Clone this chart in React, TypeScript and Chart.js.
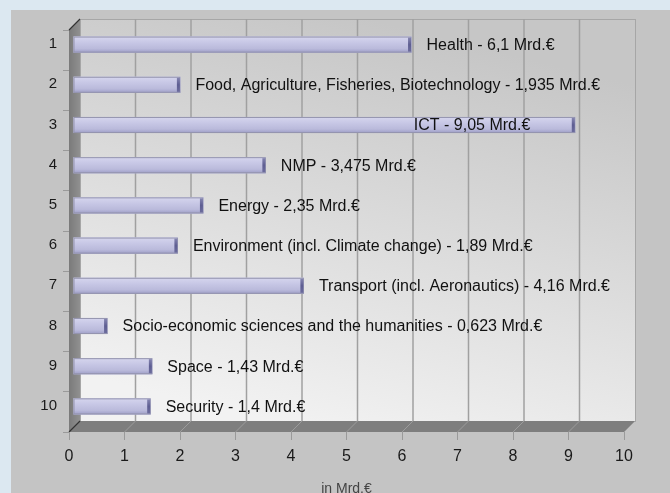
import React, { useEffect, useRef } from 'react';
import { Chart, registerables } from 'chart.js';

Chart.register(...registerables);

const categories = ['1', '2', '3', '4', '5', '6', '7', '8', '9', '10'];
const topics = [
  'Health',
  'Food, Agriculture, Fisheries, Biotechnology',
  'ICT',
  'NMP',
  'Energy',
  'Environment (incl. Climate change)',
  'Transport (incl. Aeronautics)',
  'Socio-economic sciences and the humanities',
  'Space',
  'Security',
];
const budgets = [6.1, 1.935, 9.05, 3.475, 2.35, 1.89, 4.16, 0.623, 1.43, 1.4];
const budgetLabels = ['6,1', '1,935', '9,05', '3,475', '2,35', '1,89', '4,16', '0,623', '1,43', '1,4'];
const xMin = 0;
const xMax = 10;
const xStep = 1;
const unitSuffix = ' Mrd.€';
const axisTitle = 'in Mrd.€';

const FONT = '"Liberation Sans", Arial, sans-serif';

export default function App() {
  const ref = useRef<HTMLCanvasElement>(null);

  useEffect(() => {
    document.body.style.margin = '0';
    const canvas = ref.current as HTMLCanvasElement;
    const DEPTH = 11;
    const BAR_DX = 4;
    const BAR_DY = -5.5;

    const plugin = {
      id: 'threeD',
      beforeDraw(chart: any) {
        const ctx = chart.ctx as CanvasRenderingContext2D;
        const { width, height } = chart;
        ctx.save();
        ctx.fillStyle = '#dce8f1';
        ctx.fillRect(0, 0, width, height);
        ctx.fillStyle = '#c4c4c4';
        ctx.fillRect(11, 10, width - 11, height - 10);

        const { left: L, right: R, top: T, bottom: B } = chart.chartArea;
        const D = DEPTH;
        // back wall
        const g = ctx.createLinearGradient(L + 300, T - D, L + 200, B - D);
        g.addColorStop(0, '#c6c6c6');
        g.addColorStop(1, '#f2f2f2');
        ctx.fillStyle = g;
        ctx.fillRect(L + D, T - D, R - L, B - T);
        ctx.strokeStyle = '#a6a6a6';
        ctx.lineWidth = 1;
        ctx.strokeRect(L + D + 0.5, T - D + 0.5, R - L, B - T);

        // grid lines on back wall
        const xs = chart.scales.x;
        ctx.strokeStyle = '#a0a0a0';
        ctx.lineWidth = 1.5;
        for (let v = xMin + xStep; v < xMax; v += xStep) {
          const px = xs.getPixelForValue(v) + D;
          ctx.beginPath();
          ctx.moveTo(px, T - D);
          ctx.lineTo(px, B - D);
          ctx.stroke();
        }

        // left wall
        const lg = ctx.createLinearGradient(L, 0, L + D, 0);
        lg.addColorStop(0, '#7a7a7a');
        lg.addColorStop(1, '#909090');
        ctx.fillStyle = lg;
        ctx.beginPath();
        ctx.moveTo(L, T);
        ctx.lineTo(L + D, T - D);
        ctx.lineTo(L + D, B - D);
        ctx.lineTo(L, B);
        ctx.closePath();
        ctx.fill();

        // floor
        ctx.fillStyle = '#7e7e7e';
        ctx.beginPath();
        ctx.moveTo(L, B);
        ctx.lineTo(L + D, B - D);
        ctx.lineTo(R + D, B - D);
        ctx.lineTo(R, B);
        ctx.closePath();
        ctx.fill();

        // slanted grid lines on floor
        ctx.strokeStyle = '#9c9c9c';
        ctx.lineWidth = 1;
        for (let v = xMin + xStep; v <= xMax; v += xStep) {
          const px = xs.getPixelForValue(v);
          ctx.beginPath();
          ctx.moveTo(px, B);
          ctx.lineTo(px + D, B - D);
          ctx.stroke();
        }

        // dark edges
        ctx.strokeStyle = '#333';
        ctx.lineWidth = 1.2;
        ctx.beginPath();
        ctx.moveTo(L, T);
        ctx.lineTo(L + D, T - D);
        ctx.moveTo(L, B);
        ctx.lineTo(L + D, B - D);
        ctx.stroke();
        ctx.restore();
      },
      beforeDatasetsDraw(chart: any) {
        chart.ctx.save();
        chart.ctx.translate(BAR_DX, BAR_DY);
      },
      afterDatasetsDraw(chart: any) {
        const ctx = chart.ctx as CanvasRenderingContext2D;
        const meta = chart.getDatasetMeta(0);
        meta.data.forEach((el: any, i: number) => {
          const x0 = el.base;
          const x1 = el.x;
          const h = el.height;
          const y0 = el.y - h / 2;
          const y1 = el.y + h / 2;
          const g = ctx.createLinearGradient(0, y0, 0, y1);
          g.addColorStop(0, '#d6d6ee');
          g.addColorStop(0.35, '#c8c8e6');
          g.addColorStop(0.75, '#babadb');
          g.addColorStop(1, '#9d9dc6');
          ctx.fillStyle = g;
          ctx.fillRect(x0, y0, x1 - x0, h);
          ctx.strokeStyle = '#9494ae';
          ctx.lineWidth = 1;
          ctx.strokeRect(x0 + 0.5, y0 + 0.5, x1 - x0 - 1, h - 1);
          // end cap
          const cg = ctx.createLinearGradient(0, y0, 0, y1);
          cg.addColorStop(0, '#8a8ab4');
          cg.addColorStop(0.5, '#5e5e92');
          cg.addColorStop(1, '#6e6e9e');
          ctx.fillStyle = cg;
          ctx.fillRect(x1 - 3.5, y0 + 1, 3, h - 2);

          // label
          const text = topics[i] + ' - ' + budgetLabels[i] + unitSuffix;
          ctx.font = '16px ' + FONT;
          ctx.fillStyle = '#111';
          ctx.textBaseline = 'middle';
          const w = ctx.measureText(text).width;
          let tx = x1 + 15;
          if (tx + w > chart.width - 10) {
            tx = x1 - 45 - w;
          }
          ctx.textAlign = 'left';
          ctx.fillText(text, tx, el.y + 1);
        });
        ctx.restore();
      },
      afterDraw(chart: any) {
        const ctx = chart.ctx as CanvasRenderingContext2D;
        const { left: L, right: R } = chart.chartArea;
        ctx.save();
        ctx.font = '14px ' + FONT;
        ctx.fillStyle = '#444';
        ctx.textAlign = 'center';
        ctx.textBaseline = 'middle';
        ctx.fillText(axisTitle, (L + R) / 2, 489);
        ctx.restore();
      },
    };

    const chart = new Chart(canvas, {
      type: 'bar',
      data: {
        labels: categories,
        datasets: [
          {
            data: budgets,
            backgroundColor: '#c4c4e4',
            borderWidth: 0,
            barPercentage: 0.4,
            categoryPercentage: 1,
            clip: false as any,
          },
        ],
      },
      options: {
        indexAxis: 'y',
        responsive: false,
        animation: false,
        devicePixelRatio: 1,
        layout: { padding: { top: 30, right: 46, left: 0, bottom: 0 } },
        plugins: {
          legend: { display: false },
          tooltip: { enabled: false },
          title: { display: false },
        },
        scales: {
          x: {
            type: 'linear',
            min: xMin,
            max: xMax,
            afterFit: (s: any) => {
              s.height = 61;
            },
            ticks: {
              stepSize: xStep,
              color: '#1a1a1a',
              font: { family: FONT, size: 16 },
              padding: 7,
              maxRotation: 0,
            },
            grid: {
              display: true,
              drawOnChartArea: false,
              drawTicks: true,
              tickLength: 8,
              color: '#9a9a9a',
            },
            border: { display: false },
          },
          y: {
            type: 'category',
            offset: true,
            afterFit: (s: any) => {
              s.width = 69;
            },
            ticks: {
              color: '#1a1a1a',
              font: { family: FONT, size: 15 },
              padding: 6,
              labelOffset: -6,
            },
            grid: {
              display: true,
              offset: true,
              drawOnChartArea: false,
              drawTicks: true,
              tickLength: 6,
              color: '#9a9a9a',
            },
            border: { display: false },
          },
        },
      },
      plugins: [plugin],
    } as any);

    return () => chart.destroy();
  }, []);

  return <canvas ref={ref} width={670} height={493} style={{ display: 'block' }} />;
}
